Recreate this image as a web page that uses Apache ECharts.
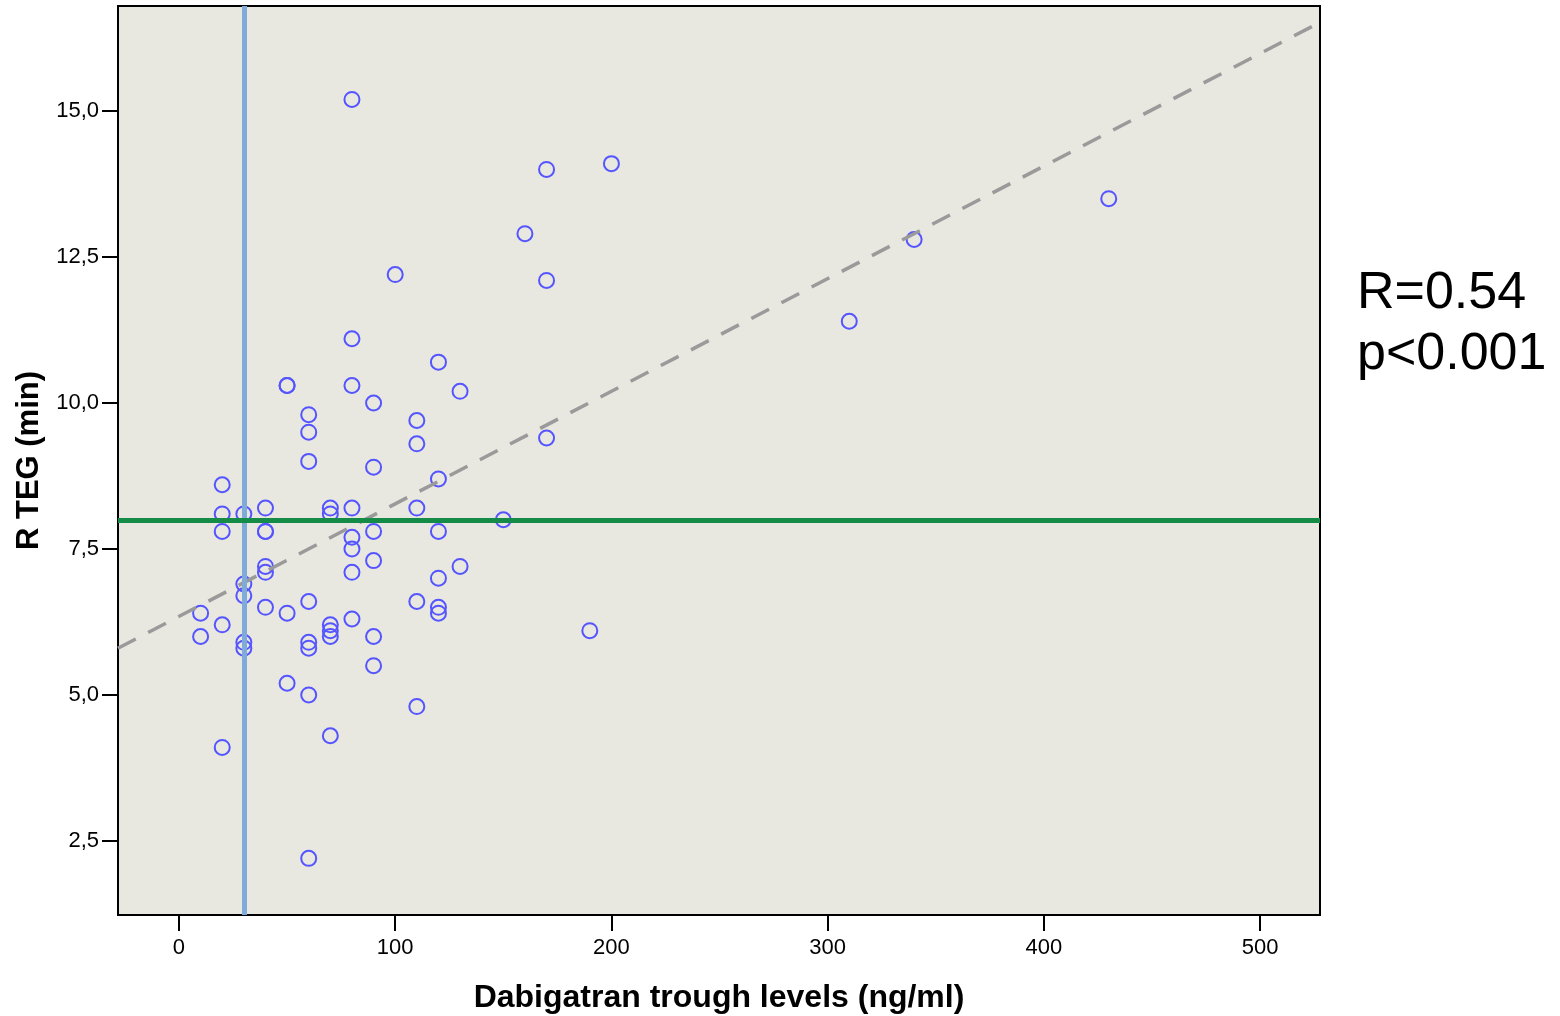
<!DOCTYPE html>
<html>
<head>
<meta charset="utf-8">
<title>R TEG vs Dabigatran trough levels</title>
<script src="https://cdn.jsdelivr.net/npm/echarts@6/dist/echarts.min.js"></script>
<style>
  html, body { margin: 0; padding: 0; background: #ffffff; }
  #chart { width: 1560px; height: 1016px; }
</style>
</head>
<body>
<div id="chart"></div>
<script>
// Dabigatran trough level (ng/ml) per patient
const dabigatran = [
  80, 170, 200, 430, 160, 340, 100, 170, 310, 80,
  120, 50, 50, 80, 130, 90, 60, 110, 60, 170,
  110, 60, 90, 120, 20, 40, 70, 80, 110, 20,
  30, 70, 150, 20, 40, 40, 90, 120, 80, 80,
  90, 40, 130, 40, 80, 120, 30, 30, 60, 110,
  40, 120, 10, 50, 120, 80, 20, 70, 70, 190,
  10, 70, 90, 30, 60, 30, 60, 90, 50, 60,
  110, 70, 20, 60
];
// Matching TEG reaction time R (min)
const rTeg = [
  15.2, 14.0, 14.1, 13.5, 12.9, 12.8, 12.2, 12.1, 11.4, 11.1,
  10.7, 10.3, 10.3, 10.3, 10.2, 10.0, 9.8, 9.7, 9.5, 9.4,
  9.3, 9.0, 8.9, 8.7, 8.6, 8.2, 8.2, 8.2, 8.2, 8.1,
  8.1, 8.1, 8.0, 7.8, 7.8, 7.8, 7.8, 7.8, 7.7, 7.5,
  7.3, 7.2, 7.2, 7.1, 7.1, 7.0, 6.9, 6.7, 6.6, 6.6,
  6.5, 6.5, 6.4, 6.4, 6.4, 6.3, 6.2, 6.2, 6.1, 6.1,
  6.0, 6.0, 6.0, 5.9, 5.9, 5.8, 5.8, 5.5, 5.2, 5.0,
  4.8, 4.3, 4.1, 2.2
];

// Linear fit line end points (x, R)
const fitX = [-28.2, 527.7];
const fitY = [5.80, 16.52];

// Reference cut-offs
const dabigatranCutoff = 30;
const rTegCutoff = 8.0;

// Axis ranges and tick values
const xRange = [-28.2, 527.7];
const yRange = [1.23, 16.8];
const xTicks = [0, 100, 200, 300, 400, 500];
const yTicks = [2.5, 5.0, 7.5, 10.0, 12.5, 15.0];

const points = dabigatran.map((x, i) => [x, rTeg[i]]);
const fitLine = fitX.map((x, i) => [x, fitY[i]]);

const chart = echarts.init(document.getElementById('chart'), null, { renderer: 'canvas' });

const FONT = '"Liberation Sans", Arial, sans-serif';
const labelFont = { fontFamily: FONT, fontSize: 22, color: '#000' };
const titleFont = { fontFamily: FONT, fontWeight: 'bold', fontSize: 32, color: '#000' };

chart.setOption({
  animation: false,
  backgroundColor: '#ffffff',
  grid: {
    left: 118, top: 6, right: 240, bottom: 101,
    outerBoundsMode: 'none',
    containLabel: false,
    show: true,
    backgroundColor: '#e8e7e0',
    borderColor: '#000',
    borderWidth: 2
  },
  xAxis: {
    type: 'value',
    min: xRange[0], max: xRange[1],
    name: 'Dabigatran trough levels (ng/ml)',
    nameLocation: 'middle',
    nameGap: 67,
    nameTextStyle: titleFont,
    axisLine: { show: false, onZero: false },
    splitLine: { show: false },
    axisTick: { show: true, inside: false, length: 16, customValues: xTicks, lineStyle: { color: '#000', width: 2 } },
    axisLabel: Object.assign({ margin: 22, customValues: xTicks, formatter: v => String(v) }, labelFont)
  },
  yAxis: {
    type: 'value',
    min: yRange[0], max: yRange[1],
    name: 'R TEG (min)',
    nameLocation: 'middle',
    nameGap: 72,
    nameTextStyle: Object.assign({}, titleFont, { fontSize: 31 }),
    axisLine: { show: false, onZero: false },
    splitLine: { show: false },
    axisTick: { show: true, inside: false, length: 16, customValues: yTicks, lineStyle: { color: '#000', width: 2 } },
    axisLabel: Object.assign({ margin: 19, customValues: yTicks, formatter: v => v.toFixed(1).replace('.', ',') }, labelFont)
  },
  series: [
    {
      // dabigatran cut-off (vertical)
      type: 'line',
      data: [],
      silent: true,
      z: 1,
      markLine: {
        silent: true,
        symbol: ['none', 'none'],
        label: { show: false },
        lineStyle: { color: '#7eabd8', width: 5, type: 'solid' },
        data: [{ xAxis: dabigatranCutoff }]
      }
    },
    {
      // R TEG cut-off (horizontal)
      type: 'line',
      data: [],
      silent: true,
      z: 2,
      markLine: {
        silent: true,
        symbol: ['none', 'none'],
        label: { show: false },
        lineStyle: { color: '#148c48', width: 5, type: 'solid' },
        data: [{ yAxis: rTegCutoff }]
      }
    },
    {
      type: 'scatter',
      data: points,
      symbol: 'circle',
      symbolSize: 15,
      z: 3,
      itemStyle: { color: 'rgba(0,0,0,0)', borderColor: '#5555ff', borderWidth: 2, opacity: 1 }
    },
    {
      type: 'line',
      data: fitLine,
      showSymbol: false,
      symbol: 'none',
      silent: true,
      z: 4,
      lineStyle: { color: '#9a9a9a', width: 3.5, type: [20, 14] }
    }
  ],
  graphic: [
    {
      type: 'text', left: 1357, top: 268, silent: true,
      style: { text: 'R=0.54', font: '52px ' + FONT, fill: '#000' }
    },
    {
      type: 'text', left: 1357, top: 329, silent: true,
      style: { text: 'p<0.001', font: '52px ' + FONT, fill: '#000' }
    }
  ]
});
</script>
</body>
</html>
